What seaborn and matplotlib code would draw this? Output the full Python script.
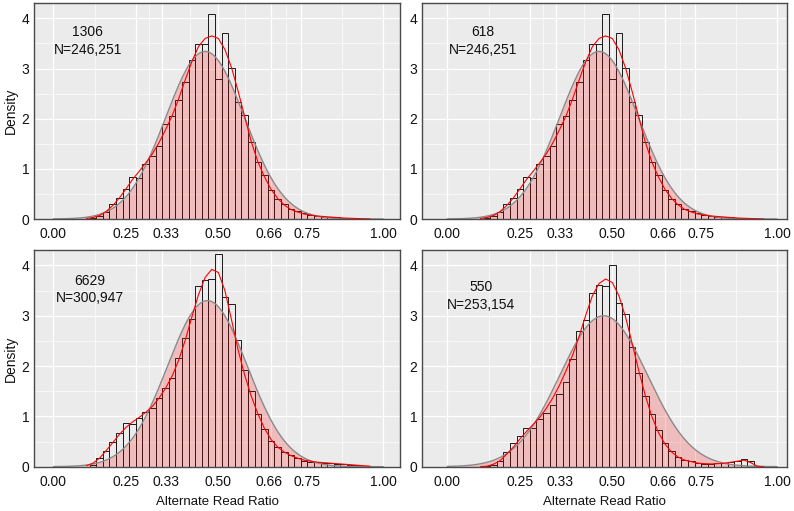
import numpy as np
import pandas as pd
import matplotlib
matplotlib.use('Agg')
import matplotlib.pyplot as plt
import matplotlib.transforms as mtransforms
import seaborn as sns

# bin centers of the histograms (bin width 0.02)
bin_centers = [0.12, 0.14, 0.16, 0.18, 0.20, 0.22, 0.24, 0.26, 0.28, 0.30,
               0.32, 0.34, 0.36, 0.38, 0.40, 0.42, 0.44, 0.46, 0.48, 0.50,
               0.52, 0.54, 0.56, 0.58, 0.60, 0.62, 0.64, 0.66, 0.68, 0.70,
               0.72, 0.74, 0.76, 0.78, 0.80, 0.82, 0.84, 0.86, 0.88, 0.90,
               0.92, 0.94]

# density per bin
dens_1306 = [0.02, 0.07, 0.14, 0.29, 0.42, 0.59, 0.83, 0.81, 1.10, 1.25,
             1.45, 1.89, 2.05, 2.38, 2.73, 3.17, 3.48, 3.48, 4.08, 2.80,
             3.71, 3.01, 2.34, 2.08, 1.53, 1.14, 0.87, 0.58, 0.39, 0.29,
             0.20, 0.15, 0.11, 0.09, 0.07, 0.05, 0.045, 0.04, 0.03, 0.025,
             0.02, 0.0]
dens_618 = dens_1306
dens_6629 = [0.03, 0.17, 0.32, 0.50, 0.66, 0.86, 0.85, 0.97, 1.08, 1.16,
             1.36, 1.56, 1.76, 2.16, 2.56, 2.94, 3.59, 3.71, 3.73, 4.23,
             3.37, 3.24, 2.51, 1.93, 1.50, 1.05, 0.74, 0.52, 0.40, 0.30,
             0.23, 0.17, 0.12, 0.10, 0.09, 0.08, 0.07, 0.06, 0.05, 0.04,
             0.03, 0.02]
dens_550 = [0.01, 0.03, 0.12, 0.29, 0.47, 0.61, 0.77, 0.77, 0.95, 1.06,
            1.23, 1.44, 1.69, 2.13, 2.69, 2.91, 3.45, 3.62, 3.59, 4.00,
            3.25, 3.04, 2.38, 1.87, 1.41, 1.04, 0.72, 0.48, 0.31, 0.20,
            0.13, 0.11, 0.08, 0.06, 0.06, 0.07, 0.08, 0.10, 0.12, 0.15,
            0.11, 0.01]

# red smooth curve, sampled every 0.02
curve_x = [0.10, 0.12, 0.14, 0.16, 0.18, 0.20, 0.22, 0.24, 0.26, 0.28,
           0.30, 0.32, 0.34, 0.36, 0.38, 0.40, 0.42, 0.44, 0.46, 0.48,
           0.50, 0.52, 0.54, 0.56, 0.58, 0.60, 0.62, 0.64, 0.66, 0.68,
           0.70, 0.72, 0.74, 0.76, 0.78, 0.80, 0.82, 0.84, 0.86, 0.88,
           0.90, 0.92, 0.94, 0.96]
curve_1306 = [0.01, 0.03, 0.07, 0.15, 0.27, 0.42, 0.60, 0.79, 0.95, 1.12,
              1.30, 1.52, 1.78, 2.06, 2.40, 2.78, 3.14, 3.44, 3.60, 3.65,
              3.60, 3.38, 3.02, 2.55, 2.04, 1.54, 1.14, 0.84, 0.59, 0.41,
              0.28, 0.19, 0.14, 0.10, 0.08, 0.06, 0.05, 0.04, 0.03, 0.02,
              0.015, 0.01, 0.005, 0.0]
curve_618 = curve_1306
curve_6629 = [0.02, 0.07, 0.17, 0.32, 0.48, 0.64, 0.78, 0.89, 0.98, 1.08,
              1.20, 1.36, 1.56, 1.80, 2.12, 2.52, 2.98, 3.42, 3.76, 3.92,
              3.86, 3.50, 2.92, 2.32, 1.82, 1.40, 1.05, 0.76, 0.54, 0.39,
              0.29, 0.22, 0.17, 0.13, 0.11, 0.09, 0.08, 0.07, 0.06, 0.05,
              0.04, 0.03, 0.02, 0.01]
curve_550 = [0.0, 0.01, 0.05, 0.12, 0.25, 0.39, 0.55, 0.70, 0.84, 0.98,
             1.16, 1.37, 1.62, 1.91, 2.22, 2.60, 3.02, 3.40, 3.64, 3.73,
             3.66, 3.40, 2.98, 2.46, 1.92, 1.42, 1.00, 0.68, 0.45, 0.29,
             0.19, 0.13, 0.10, 0.07, 0.06, 0.055, 0.06, 0.07, 0.09, 0.11,
             0.13, 0.08, 0.01, 0.0]

# fitted normal (mean, sd) for the grey curve
norm_1306 = (0.460, 0.1194)
norm_618 = norm_1306
norm_6629 = (0.467, 0.1209)
norm_550 = (0.474, 0.1330)

samples = ['1306', '618', '6629', '550']
counts = ['246,251', '246,251', '300,947', '253,154']

x_ticks = [0.0, 0.25, 0.33, 0.50, 0.66, 0.75, 1.0]
x_tick_labels = ['0.00', '0.25', '0.33', '0.50', '0.66', '0.75', '1.00']
# labels are nudged sideways (points) so the close ones don't touch
x_label_nudge = [0, -7.2, 2.9, 0, -1.4, 4.3, 0]
x_minor = [0.125, 0.29, 0.415, 0.58, 0.705, 0.875]
y_ticks = [0, 1, 2, 3, 4]

sns.set_style('darkgrid')
plt.rcParams['font.family'] = ['Liberation Sans', 'DejaVu Sans']

fig = plt.figure(figsize=(7.94, 5.11), dpi=100)

# panel boxes in figure fractions: left, bottom, width, height
boxes = [
    [0.0432, 0.5714, 0.4606, 0.4221],
    [0.5315, 0.5714, 0.4601, 0.4221],
    [0.0432, 0.0867, 0.4606, 0.4235],
    [0.5315, 0.0867, 0.4601, 0.4235],
]
xlims = [(-0.058, 1.051), (-0.077, 1.031), (-0.058, 1.051), (-0.077, 1.031)]
text_pos = [(0.146, 0.825), (0.167, 0.825), (0.152, 0.819), (0.161, 0.789)]

panel_dens = [dens_1306, dens_618, dens_6629, dens_550]
panel_curve = [curve_1306, curve_618, curve_6629, curve_550]
panel_norm = [norm_1306, norm_618, norm_6629, norm_550]

centers = np.array(bin_centers)
edges = list(np.append(centers - 0.01, centers[-1] + 0.01))
gx = np.linspace(0, 1, 500)

for i in range(4):
    ax = fig.add_axes(boxes[i])
    ax.set_facecolor('#EBEBEB')

    # histogram outline bars
    hist_df = pd.DataFrame({'ratio': bin_centers, 'density': panel_dens[i]})
    sns.histplot(data=hist_df, x='ratio', weights='density', bins=edges,
                 stat='count', fill=False, color='#1a1a1a', linewidth=0.7, ax=ax)

    # normal fit, filled pink
    mu, sd = panel_norm[i]
    gy = np.exp(-0.5 * ((gx - mu) / sd) ** 2) / (sd * np.sqrt(2 * np.pi))
    ax.fill_between(gx, gy, color='red', alpha=0.2, linewidth=0)
    sns.lineplot(x=gx, y=gy, color='#8a8a8a', linewidth=1.0, ax=ax)

    # red smooth curve
    sns.lineplot(x=curve_x, y=panel_curve[i], color='red', linewidth=0.8,
                 estimator=None, ax=ax)

    ax.set_xlim(xlims[i])
    ax.set_ylim(0, 4.30)
    ax.set_xticks(x_ticks)
    ax.set_xticklabels(x_tick_labels)
    ax.set_xticks(x_minor, minor=True)
    ax.set_yticks(y_ticks)
    ax.set_yticklabels([str(v) for v in y_ticks])
    ax.set_yticks([0.5, 1.5, 2.5, 3.5], minor=True)
    ax.grid(which='major', color='white', linewidth=0.9)
    ax.grid(which='minor', color='white', linewidth=0.45)
    ax.set_axisbelow(True)

    ax.tick_params(which='minor', length=0)
    ax.tick_params(axis='x', which='major', length=3, width=0.8, color='#333333',
                   pad=3, labelsize=10, labelcolor='#111111')
    ax.tick_params(axis='y', which='major', length=2.5, width=0.8, color='#333333',
                   pad=1, labelsize=10, labelcolor='#111111')
    for lab, dx in zip(ax.get_xticklabels(), x_label_nudge):
        shift = mtransforms.ScaledTranslation(dx / 72, 0, fig.dpi_scale_trans)
        lab.set_transform(lab.get_transform() + shift)

    for s in ax.spines.values():
        s.set_visible(True)
        s.set_color('#4a4a4a')
        s.set_linewidth(1.0)

    ax.set_xlabel('')
    ax.set_ylabel('')
    if i in (0, 2):
        ax.set_ylabel('Density', fontsize=10, labelpad=3, color='#111111')
    if i in (2, 3):
        ax.set_xlabel('Alternate Read Ratio', fontsize=9.5, labelpad=5, color='#111111')

    ax.text(text_pos[i][0], text_pos[i][1], samples[i] + '\nN=' + counts[i],
            transform=ax.transAxes, ha='center', va='center', multialignment='center',
            fontsize=10, linespacing=1.3, color='#111111')

fig.savefig('out.png', dpi=100)
